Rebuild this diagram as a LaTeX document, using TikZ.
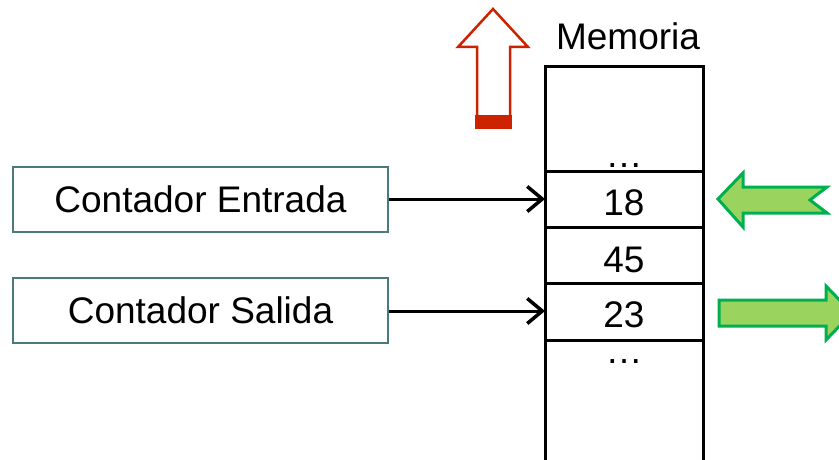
\documentclass[tikz,border=0pt]{standalone}
\usepackage{fontspec}
\setmainfont{Liberation Sans}
\usetikzlibrary{arrows.meta}
\definecolor{boxedge}{HTML}{4A7B7B}
\definecolor{redarrow}{HTML}{CC2200}
\definecolor{gfill}{HTML}{9BD35F}
\definecolor{gedge}{HTML}{00B050}
\begin{document}
\begin{tikzpicture}[x=1pt,y=-1pt,
  lbl/.style={font=\fontsize{37}{40}\selectfont, inner sep=0pt, anchor=base},
  dots/.style={lbl, text height=5pt, text depth=0pt},
  ctrbox/.style={draw=boxedge, line width=1.6pt, minimum width=375pt, minimum height=65pt, inner sep=0pt, font=\fontsize{37}{40}\selectfont},
  memline/.style={line width=3pt},
  ptr/.style={line width=3pt, -{Straight Barb[length=15pt,width=25pt,line width=3.5pt]}},
  garrow/.style={fill=gfill, draw=gedge, line width=3pt, line join=miter},
]
\useasboundingbox (0,0) rectangle (839,460);
\clip (0,0) rectangle (839,460);
% memory column
\draw[memline] (545,470) -- (545,67) -- (703,67) -- (703,470);
\coordinate (m1l) at (545,171); \coordinate (m1r) at (703,171);
\coordinate (m2l) at (545,227); \coordinate (m2r) at (703,227);
\coordinate (m3l) at (545,283); \coordinate (m3r) at (703,283);
\coordinate (m4l) at (545,340); \coordinate (m4r) at (703,340);
\draw[memline] (m1l) -- (m1r);
\draw[memline] (m2l) -- (m2r);
\draw[memline] (m3l) -- (m3r);
\draw[memline] (m4l) -- (m4r);
\node[lbl] (mem) at (628,50) {Memoria};
\node[dots] (d1) at (624,167) {…};
\node[lbl] (v18) at (624,215) {18};
\node[lbl] (v45) at (624,272) {45};
\node[lbl] (v23) at (624,327) {23};
\node[dots] (d2) at (624,363) {…};
% counters
\node[ctrbox] (ce) at (200.5,199.5) {Contador Entrada};
\node[ctrbox] (cs) at (200.5,310.5) {Contador Salida};
\coordinate (pe) at (545,199);
\coordinate (ps) at (545,311);
\draw[ptr] (ce.east |- pe) -- (pe);
\draw[ptr] (cs.east |- ps) -- (ps);
% red up arrow
\draw[redarrow, fill=white, line width=2.5pt, line join=miter]
  (493,9) -- (528,47) -- (510,47) -- (510,127) -- (477,127) -- (477,47) -- (458,47) -- cycle;
\fill[redarrow] (475,115) rectangle (512,129);
% green arrows
\draw[garrow] (718,199) -- (743,173) -- (743,187) -- (827,187) -- (810,200) -- (827,213) -- (743,213) -- (743,227) -- cycle;
\draw[garrow] (719,300) -- (826,300) -- (826,286) -- (852,313) -- (826,340) -- (826,326) -- (719,326) -- cycle;
\end{tikzpicture}
\end{document}
